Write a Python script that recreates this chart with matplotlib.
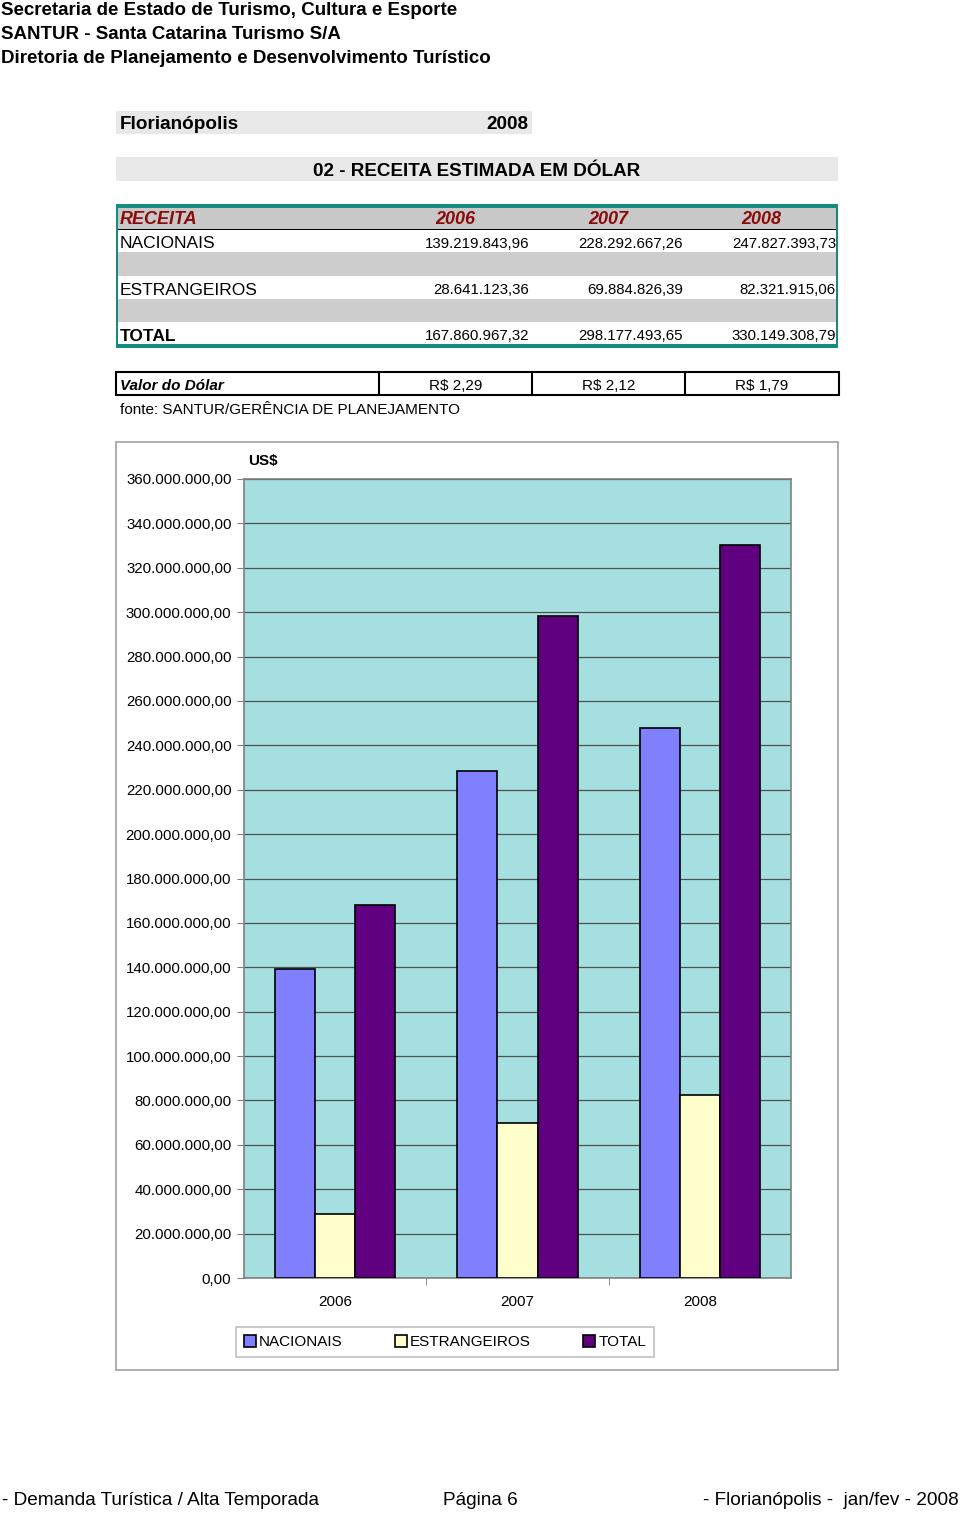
import matplotlib
matplotlib.use("Agg")
import matplotlib.pyplot as plt
from matplotlib.patches import Rectangle
from matplotlib.ticker import FuncFormatter, MultipleLocator, FixedLocator

plt.rcParams['font.family'] = ['Liberation Sans', 'DejaVu Sans']

# data
years = ['2006', '2007', '2008']
nacionais = [139219843.96, 228292667.26, 247827393.73]
estrangeiros = [28641123.36, 69884826.39, 82321915.06]
total = [167860967.32, 298177493.65, 330149308.79]
dolar = ['R$ 2,29', 'R$ 2,12', 'R$ 1,79']
series_names = ['NACIONAIS', 'ESTRANGEIROS', 'TOTAL']
colors = ['#8080FF', '#FFFFCC', '#600080']

W, H = 960, 1514
fig = plt.figure(figsize=(W / 100, H / 100), dpi=100)


def fx(x):
    return x / W


def fy(y):
    return 1 - y / H


def box(x0, y0, x1, y1, fc='none', ec='none', lw=1.0, z=0):
    fig.patches.append(Rectangle((fx(x0), fy(y1)), fx(x1) - fx(x0), fy(y0) - fy(y1),
                                 transform=fig.transFigure, facecolor=fc,
                                 edgecolor=ec, linewidth=lw, zorder=z))


def txt(x, y, s, **kw):
    kw.setdefault('va', 'center')
    fig.text(fx(x), fy(y + 1.5), s, **kw)


def fmt_br(v):
    s = f"{v:,.2f}"
    return s.replace(',', 'X').replace('.', ',').replace('X', '.')


# header
txt(1, 9, 'Secretaria de Estado de Turismo, Cultura e Esporte', fontsize=13.5, fontweight='bold')
txt(1, 33, 'SANTUR - Santa Catarina Turismo S/A', fontsize=13.5, fontweight='bold')
txt(1, 57, 'Diretoria de Planejamento e Desenvolvimento Turístico', fontsize=13.5, fontweight='bold')

box(116, 111, 532, 134, fc='#E8E8E8')
txt(120, 123, 'Florianópolis', fontsize=13.6, fontweight='bold')
txt(528, 123, '2008', fontsize=13.6, fontweight='bold', ha='right')

box(116, 157, 838, 181, fc='#E8E8E8')
txt(477, 170, '02 - RECEITA ESTIMADA EM DÓLAR', fontsize=13.6, fontweight='bold', ha='center')

# table
teal = '#158A80'
col_c = [455, 608, 761]
col_r = [529, 683, 836]
box(116, 207, 838, 229, fc='#C8C8C8')
box(116, 252, 838, 276, fc='#CDCDCD')
box(116, 299, 838, 322, fc='#CDCDCD')
box(116, 204, 838, 208, fc=teal, z=2)
box(116, 344, 838, 348, fc=teal, z=2)
box(116, 204, 118, 348, fc=teal, z=2)
box(836, 204, 838, 348, fc=teal, z=2)
box(118, 228.5, 836, 230, fc='black', z=2)
red = '#8B0A0A'
txt(120, 218, 'RECEITA', fontsize=13, fontweight='bold', style='italic', color=red)
for x, yr in zip(col_c, years):
    txt(x, 218, yr, fontsize=13, fontweight='bold', style='italic', color=red, ha='center')
rows = [('NACIONAIS', nacionais, 242, 'normal'),
        ('ESTRANGEIROS', estrangeiros, 289, 'normal'),
        ('TOTAL', total, 335, 'bold')]
for name, vals, y, w in rows:
    txt(120, y, name, fontsize=12.5, fontweight=w)
    for x, v in zip(col_r, vals):
        txt(x, y, fmt_br(v), fontsize=10.8, ha='right')

# dollar value row
box(116, 372, 839, 395, ec='black', lw=1.5)
for x in [379, 532, 685]:
    fig.add_artist(plt.Line2D([fx(x), fx(x)], [fy(372), fy(395)], color='black', lw=1.5,
                              transform=fig.transFigure))
txt(120, 385, 'Valor do Dólar', fontsize=11, fontweight='bold', style='italic')
for x, s in zip(col_c, dolar):
    txt(x + 1, 385, s, fontsize=11, ha='center')
txt(120, 408, 'fonte: SANTUR/GERÊNCIA DE PLANEJAMENTO', fontsize=11)

# chart frame
box(116, 442, 838, 1370, fc='white', ec='#A0A0A0', lw=1.2, z=-1)

ax = fig.add_axes([fx(244), fy(1278), fx(791) - fx(244), fy(479) - fy(1278)])
ax.set_facecolor('#A5DFE0')
bw = 0.22
xs = range(len(years))
for i, (vals, c, name) in enumerate(zip([nacionais, estrangeiros, total], colors, series_names)):
    ax.bar([x + (i - 1) * bw for x in xs], vals, width=bw, color=c, edgecolor='black',
           linewidth=1.2, label=name, zorder=3)
ax.set_xlim(-0.5, 2.5)
ax.set_ylim(0, 360000000)
ax.yaxis.set_major_locator(MultipleLocator(20000000))
ax.yaxis.set_major_formatter(FuncFormatter(lambda v, p: fmt_br(v)))
ax.grid(axis='y', color='#505050', linewidth=0.9, zorder=1)
ax.set_xticks(list(xs))
ax.set_xticklabels(years)
ax.xaxis.set_minor_locator(FixedLocator([0.5, 1.5]))
ax.tick_params(axis='x', which='major', length=0, pad=12, labelsize=11)
ax.tick_params(axis='x', which='minor', length=5, color='#808080')
ax.tick_params(axis='y', length=5, color='#808080', labelsize=10.8, pad=4)
for s in ax.spines.values():
    s.set_color('#808080')
    s.set_linewidth(1.2)
txt(248, 460, 'US$', fontsize=11, fontweight='bold')

leg = ax.legend(loc='center', bbox_to_anchor=((445 - 244) / 547, (1278 - 1342) / 799),
                ncol=3, frameon=True, fancybox=False, fontsize=11, handlelength=0.8,
                handleheight=0.8, handletextpad=0.2, columnspacing=3.4,
                borderpad=0.5)
leg.get_frame().set_edgecolor('#B0B0B0')
leg.get_frame().set_linewidth(1.2)

# footer
txt(2, 1499, '- Demanda Turística / Alta Temporada', fontsize=13.7)
txt(480, 1499, 'Página 6', fontsize=13.7, ha='center')
txt(959, 1499, '- Florianópolis -  jan/fev - 2008', fontsize=13.7, ha='right')

fig.savefig('out.png', dpi=100)
